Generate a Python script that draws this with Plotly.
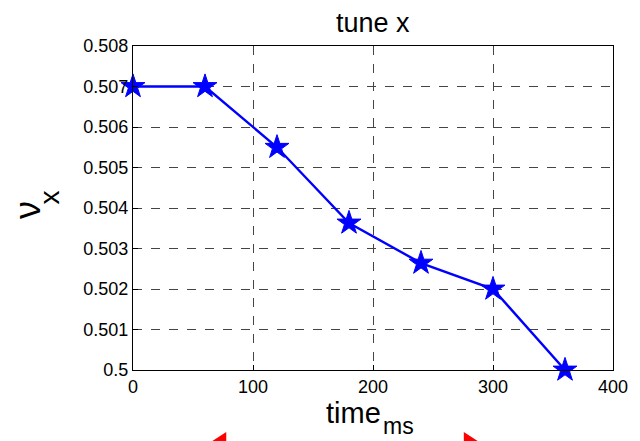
import plotly.graph_objects as go

# Tune measurement along the ramp
time_ms = [0, 60, 120, 180, 240, 300, 360]
tune_x = [0.507, 0.507, 0.5055, 0.50363, 0.50264, 0.502, 0.5]

x_ticks = [0, 100, 200, 300, 400]
y_ticks = [0.5, 0.501, 0.502, 0.503, 0.504, 0.505, 0.506, 0.507, 0.508]
y_tick_text = ["0.5", "0.501", "0.502", "0.503", "0.504", "0.505", "0.506", "0.507", "0.508"]

FONT = "Liberation Sans, Arial, Helvetica, sans-serif"
W, H = 640, 441
L, R, T, B = 133, 18, 46, 71
PW, PH = W - L - R, H - T - B


def px_x(px):
    return (px - L) / PW


def px_y(py):
    return (H - B - py) / PH


fig = go.Figure()
fig.add_trace(go.Scatter(
    x=time_ms, y=tune_x, mode="lines+markers",
    line=dict(color="#0000ff", width=2.4),
    marker=dict(symbol="star", size=18, color="#0000ff",
                line=dict(color="#0000ff", width=1)),
    cliponaxis=False, showlegend=False,
))

axis_common = dict(
    showline=True, linecolor="black", linewidth=1.3, mirror=True,
    ticks="inside", ticklen=5, tickcolor="black",
    showgrid=True, gridcolor="#444444", griddash="dash", gridwidth=1,
    zeroline=False, tickfont=dict(family=FONT, size=18, color="black"),
)

fig.update_layout(
    width=W, height=H,
    margin=dict(l=L, r=R, t=T, b=B),
    paper_bgcolor="white", plot_bgcolor="white",
    xaxis=dict(range=[0, 400], tickvals=x_ticks, **axis_common),
    yaxis=dict(range=[0.5, 0.508], tickvals=y_ticks, ticktext=y_tick_text,
               **axis_common),
)


def label(text, x, y, size, angle=0):
    fig.add_annotation(text=text, xref="paper", yref="paper",
                       x=px_x(x), y=px_y(y), xanchor="center", yanchor="middle",
                       showarrow=False, textangle=angle,
                       font=dict(family=FONT, size=size, color="black"))


# Title and axis labels
label("tune x", 377, 23, 27)
label("time", 358, 413, 29)
label("ms", 403, 426, 23)
label("ν", 25, 210, 36, -90)
label("x", 47, 198, 28, -90)

# Red scroll arrows along the bottom edge
fig.add_shape(type="path", xref="paper", yref="paper",
              path=f"M {px_x(206)} {px_y(446)} L {px_x(228)} {px_y(432)} "
                   f"L {px_x(228)} {px_y(460)} Z",
              fillcolor="red", line=dict(width=0))
fig.add_shape(type="path", xref="paper", yref="paper",
              path=f"M {px_x(470)} {px_y(432)} L {px_x(492)} {px_y(446)} "
                   f"L {px_x(470)} {px_y(460)} Z",
              fillcolor="red", line=dict(width=0))

fig.write_html("out.html")
